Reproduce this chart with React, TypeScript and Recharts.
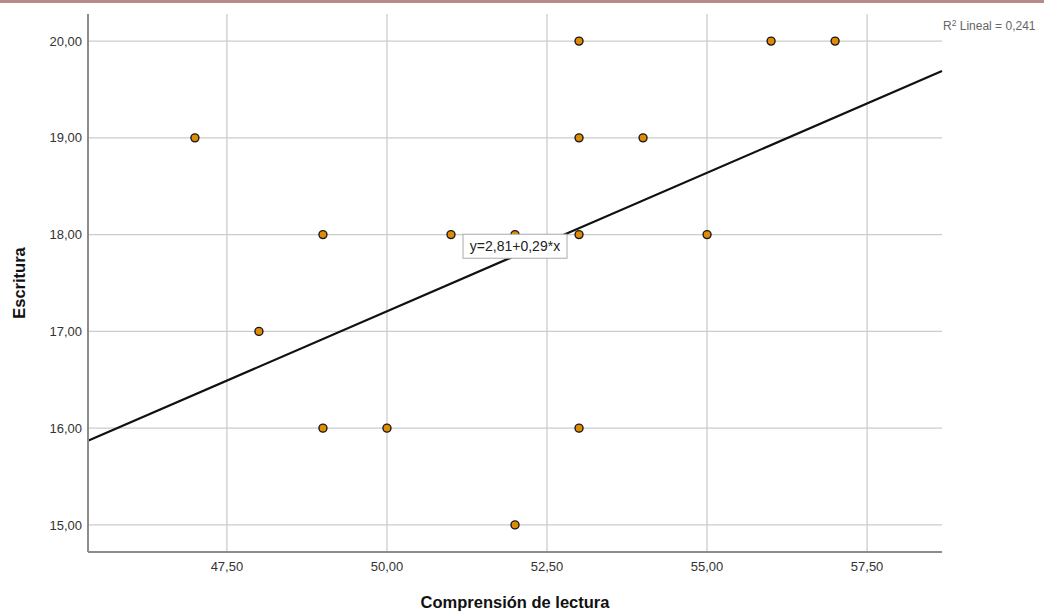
import React from "react";
import {
  ScatterChart,
  Scatter,
  XAxis,
  YAxis,
  ReferenceLine,
  ReferenceDot,
} from "recharts";

const lectura = [47, 48, 49, 49, 50, 51, 52, 52, 53, 53, 53, 53, 54, 55, 56, 57];
const escritura = [19, 17, 18, 16, 16, 18, 18, 15, 20, 19, 18, 16, 19, 18, 20, 20];
const xTicks = [47.5, 50, 52.5, 55, 57.5];
const yTicks = [15, 16, 17, 18, 19, 20];
const xDomain = [45.33, 58.67];
const yDomain = [14.72, 20.28];
const fitLine = [
  { x: 45.33, y: 15.87 },
  { x: 58.67, y: 19.69 },
];
const equationText = "y=2,81+0,29*x";
const equationPos = { x: 52.0, y: 17.88 };
const r2Text = "Lineal = 0,241";

const points = lectura.map((x, i) => ({ x, y: escritura[i] }));

const FONT = "'Liberation Sans', Arial, sans-serif";
const fmt = (v: number) => v.toFixed(2).replace(".", ",");

const Dot = (p: any) => (
  <circle cx={p.cx} cy={p.cy} r={4} fill="#e08a06" stroke="#1a1a1a" strokeWidth={1.4} />
);

const EqBox = (p: any) => (
  <g>
    <rect x={p.cx - 52} y={p.cy - 12} width={104} height={24} fill="#fff" stroke="#aaa" strokeWidth={1} />
    <text x={p.cx} y={p.cy + 5} textAnchor="middle" fontSize={14} fill="#222" fontFamily={FONT}>
      {equationText}
    </text>
  </g>
);

export default function App() {
  return (
    <div style={{ position: "absolute", left: 0, top: 0, width: 1044, height: 614, background: "#fff", fontFamily: FONT }}>
      <div style={{ position: "absolute", left: 0, top: 0, width: 1044, height: 3, background: "#b98a8a" }} />
      <ScatterChart width={1044} height={614} margin={{ top: 14, right: 102, left: 0, bottom: 0 }}>
        <XAxis
          type="number"
          dataKey="x"
          domain={xDomain}
          ticks={xTicks}
          allowDataOverflow
          height={62}
          tickFormatter={fmt}
          tickLine={false}
          tickSize={0}
          tickMargin={10}
          axisLine={{ stroke: "#8c8c8c", strokeWidth: 2 }}
          tick={{ fontSize: 13, fill: "#333", fontFamily: FONT }}
          label={{
            content: (props: any) => {
              const vb = props.viewBox;
              return (
                <text x={vb.x + vb.width / 2} y={vb.y + 56} textAnchor="middle" fontSize={16.5} fontWeight="bold" fill="#111" fontFamily={FONT}>
                  Comprensión de lectura
                </text>
              );
            },
          }}
        />
        <YAxis
          type="number"
          dataKey="y"
          domain={yDomain}
          ticks={yTicks}
          allowDataOverflow
          width={88}
          tickFormatter={fmt}
          tickLine={false}
          tickSize={0}
          tickMargin={6}
          axisLine={{ stroke: "#8c8c8c", strokeWidth: 2 }}
          tick={{ fontSize: 13, fill: "#333", fontFamily: FONT }}
          label={{
            content: (props: any) => {
              const vb = props.viewBox;
              const cy = vb.y + vb.height / 2;
              return (
                <text x={25} y={cy} transform={`rotate(-90 25 ${cy})`} textAnchor="middle" fontSize={16.5} fontWeight="bold" fill="#111" fontFamily={FONT}>
                  Escritura
                </text>
              );
            },
          }}
        />
        {xTicks.map((t) => (
          <ReferenceLine key={`vx${t}`} x={t} stroke="#cccccc" strokeWidth={1.3} />
        ))}
        {yTicks.map((t) => (
          <ReferenceLine key={`hy${t}`} y={t} stroke="#cccccc" strokeWidth={1.3} />
        ))}
        <ReferenceLine
          segment={fitLine}
          stroke="#111"
          strokeWidth={2.2}
          ifOverflow="visible"
        />
        <Scatter data={points} shape={Dot} isAnimationActive={false} />
        <ReferenceDot x={equationPos.x} y={equationPos.y} shape={EqBox} ifOverflow="visible" />
      </ScatterChart>
      <div style={{ position: "absolute", left: 943, top: 18, fontSize: 12, color: "#666", whiteSpace: "nowrap", fontFamily: FONT }}>
        R<sup style={{ fontSize: 8.5, verticalAlign: "4px" }}>2</sup> {r2Text}
      </div>
    </div>
  );
}
